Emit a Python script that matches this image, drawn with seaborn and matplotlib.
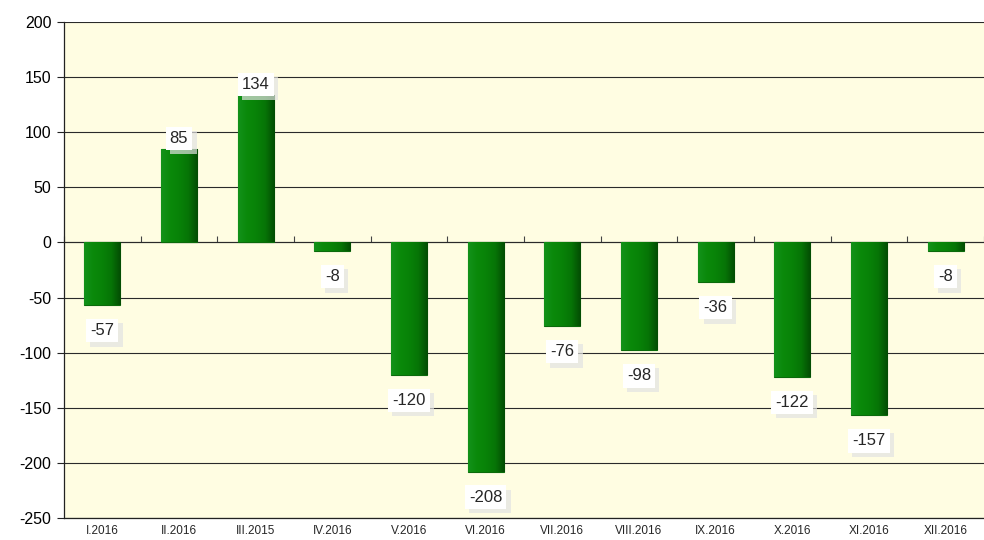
import numpy as np
import pandas as pd
import matplotlib
matplotlib.use("Agg")
import matplotlib.pyplot as plt
import matplotlib.patheffects as pe
import seaborn as sns

# ── Dados ────────────────────────────────────────────────────────────────────
meses = ["I.2016", "II.2016", "III.2015", "IV.2016", "V.2016", "VI.2016",
         "VII.2016", "VIII.2016", "IX.2016", "X.2016", "XI.2016", "XII.2016"]
valores = [-57, 85, 134, -8, -120, -208, -76, -98, -36, -122, -157, -8]

y_min, y_max = -250, 200
y_ticks = list(range(-250, 201, 50))

df = pd.DataFrame({"mes": meses, "valor": valores})

# ── Estilo ───────────────────────────────────────────────────────────────────
sns.set_style("white")
plt.rcParams["font.family"] = ["Liberation Sans", "DejaVu Sans"]
plt.rcParams["axes.unicode_minus"] = False
plt.rcParams["hatch.color"] = "#f6ef90"
plt.rcParams["hatch.linewidth"] = 1.0

fig = plt.figure(figsize=(9.84, 5.4), dpi=100)
ax = fig.add_axes([0.065, 0.041, 0.935, 0.918])
ax.set_facecolor("#fffde2")
ax.patch.set_hatch("...")

sns.barplot(data=df, x="mes", y="valor", color="#0a8a0a", width=0.47,
            edgecolor="#0b6a0b", linewidth=0.8, ax=ax, zorder=3)

# gradiente horizontal nas barras (efeito 3D)
grad = np.linspace(0, 1, 64).reshape(1, -1)
cmap = matplotlib.colors.LinearSegmentedColormap.from_list(
    "verde", ["#13921a", "#0a890a", "#088208", "#067406", "#034c03"])
for bar in ax.patches:
    x0, y0 = bar.get_x(), bar.get_y()
    w, h = bar.get_width(), bar.get_height()
    im = ax.imshow(grad, cmap=cmap, aspect="auto", zorder=3.5,
                   extent=[x0, x0 + w, y0, y0 + h])
    im.set_clip_path(bar)

ax.set_xlim(-0.5, len(meses) - 0.5)
ax.set_ylim(y_min, y_max)
ax.set_yticks(y_ticks)
ax.set_xlabel("")
ax.set_ylabel("")

# grade
ax.yaxis.grid(True, color="#2a2a2a", linewidth=0.8, zorder=1)
ax.xaxis.grid(False)
for s in ["top", "right"]:
    ax.spines[s].set_visible(False)
ax.spines["left"].set_color("#222222")
ax.spines["bottom"].set_color("#222222")
ax.spines["left"].set_linewidth(0.9)
ax.spines["bottom"].set_linewidth(0.9)

ax.tick_params(axis="y", left=True, direction="out", length=5, width=0.8,
               labelsize=11.5, colors="#222222", pad=4)
ax.tick_params(axis="x", bottom=False, labelsize=8.5, pad=2)
for t in ax.get_yticklabels():
    t.set_color("black")

# eixo no zero com marcas entre as categorias
zero_pos = (0 - y_min) / (y_max - y_min)
sec = ax.secondary_xaxis(zero_pos)
sec.set_xticks(np.arange(len(meses) + 1) - 0.5)
sec.set_xticklabels([])
sec.tick_params(direction="out", length=4, width=0.8, colors="#444444")
sec.spines["bottom"].set_color("#555555")
sec.spines["bottom"].set_linewidth(1.2)

# rótulos de valor
for bar, val in zip(ax.patches, valores):
    cx = bar.get_x() + bar.get_width() / 2
    off = 2 if val >= 0 else -13
    t = ax.annotate(f"{val}", (cx, val), xytext=(0, off),
                    textcoords="offset points", ha="center",
                    va="bottom" if val >= 0 else "top", fontsize=12,
                    zorder=5,
                    bbox=dict(boxstyle="square,pad=0.25", fc="white",
                              ec="none"))
    t.get_bbox_patch().set_path_effects(
        [pe.SimplePatchShadow(offset=(3, -3), shadow_rgbFace="#e2e2e2",
                              alpha=0.7), pe.Normal()])

fig.savefig("out.png", dpi=100)
